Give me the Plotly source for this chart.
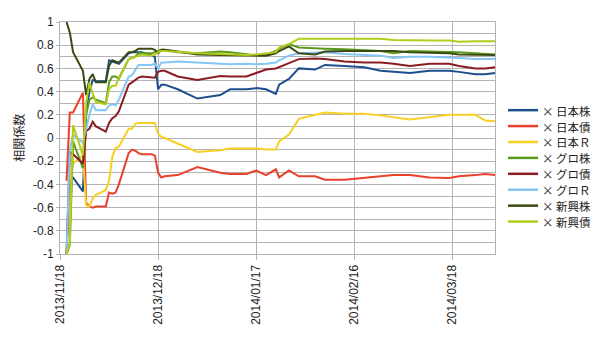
import plotly.graph_objects as go

# Observation dates (business days, denser at the start of the window)
dates = [
    "2013-11-20", "2013-11-21", "2013-11-22", "2013-11-25", "2013-11-26",
    "2013-11-27", "2013-11-28", "2013-11-29", "2013-12-02", "2013-12-03",
    "2013-12-04", "2013-12-05", "2013-12-06", "2013-12-09", "2013-12-10",
    "2013-12-11", "2013-12-12", "2013-12-13", "2013-12-16", "2013-12-17",
    "2013-12-18", "2013-12-19", "2013-12-20", "2013-12-24", "2013-12-30",
    "2014-01-06", "2014-01-09", "2014-01-14", "2014-01-17", "2014-01-20",
    "2014-01-23", "2014-01-24", "2014-01-27", "2014-01-30", "2014-02-04",
    "2014-02-07", "2014-02-13", "2014-02-19", "2014-02-24", "2014-02-28",
    "2014-03-05", "2014-03-11", "2014-03-17", "2014-03-20", "2014-03-25",
    "2014-03-28", "2014-03-31",
]

# Rolling correlation coefficients for each asset pair
jp_equity = [
    -1.0, -0.34, -0.34, -0.46, 0.22, 0.40, 0.50, 0.49, 0.49, 0.67,
    0.66, 0.65, 0.64, 0.73, 0.74, 0.74, 0.74, 0.74, 0.71, 0.70,
    0.42, 0.46, 0.46, 0.42, 0.34, 0.37, 0.42, 0.42, 0.43, 0.42,
    0.38, 0.46, 0.51, 0.60, 0.59, 0.63, 0.62, 0.61, 0.58, 0.57,
    0.56, 0.58, 0.58, 0.57, 0.55, 0.55, 0.56,
]
jp_bond = [
    -0.37, 0.22, 0.22, 0.39, -0.56, -0.59, -0.60, -0.59, -0.59, -0.47,
    -0.48, -0.47, -0.40, -0.13, -0.10, -0.11, -0.13, -0.14, -0.14, -0.15,
    -0.30, -0.34, -0.33, -0.32, -0.25, -0.30, -0.31, -0.31, -0.28, -0.32,
    -0.27, -0.34, -0.28, -0.33, -0.33, -0.36, -0.36, -0.345, -0.33, -0.32,
    -0.32, -0.34, -0.345, -0.33, -0.32, -0.31, -0.32,
]
jp_reit = [
    -1.0, -0.38, -0.22, -0.15, -0.58, -0.59, -0.52, -0.49, -0.45, -0.37,
    -0.16, -0.085, -0.075, 0.08, 0.08, 0.12, 0.13, 0.13, 0.13, 0.13,
    0.035, 0.01, 0.0, -0.05, -0.12, -0.105, -0.09, -0.09, -0.09, -0.10,
    -0.10, -0.03, 0.03, 0.165, 0.20, 0.22, 0.21, 0.21, 0.195, 0.18,
    0.16, 0.18, 0.20, 0.20, 0.20, 0.15, 0.145,
]
gl_equity = [
    -1.0, -0.92, -0.03, -0.26, 0.20, 0.33, 0.35, 0.33, 0.30, 0.48,
    0.53, 0.53, 0.51, 0.68, 0.69, 0.70, 0.73, 0.73, 0.73, 0.74,
    0.75, 0.76, 0.76, 0.74, 0.73, 0.745, 0.74, 0.72, 0.71, 0.72,
    0.75, 0.77, 0.81, 0.78, 0.77, 0.77, 0.765, 0.76, 0.75, 0.73,
    0.75, 0.745, 0.745, 0.74, 0.73, 0.725, 0.72,
]
gl_bond = [
    -1.0, -0.12, -0.14, -0.22, 0.06, 0.08, 0.14, 0.10, 0.055, 0.13,
    0.17, 0.19, 0.23, 0.46, 0.48, 0.50, 0.52, 0.53, 0.52, 0.52,
    0.57, 0.58, 0.58, 0.53, 0.50, 0.535, 0.53, 0.53, 0.56, 0.59,
    0.60, 0.61, 0.645, 0.68, 0.685, 0.68, 0.66, 0.65, 0.65, 0.64,
    0.62, 0.64, 0.64, 0.62, 0.60, 0.60, 0.61,
]
gl_reit = [
    -1.0, -0.10, 0.03, -0.04, 0.08, 0.20, 0.29, 0.24, 0.24, 0.28,
    0.29, 0.28, 0.33, 0.53, 0.54, 0.58, 0.63, 0.63, 0.63, 0.64,
    0.60, 0.65, 0.65, 0.66, 0.65, 0.64, 0.635, 0.64, 0.635, 0.64,
    0.65, 0.67, 0.71, 0.73, 0.74, 0.74, 0.725, 0.72, 0.71, 0.69,
    0.70, 0.70, 0.695, 0.69, 0.68, 0.68, 0.68,
]
em_equity = [
    1.0, 0.91, 0.74, 0.58, 0.37, 0.51, 0.55, 0.48, 0.48, 0.62,
    0.67, 0.66, 0.65, 0.74, 0.74, 0.75, 0.77, 0.77, 0.77, 0.76,
    0.73, 0.76, 0.76, 0.745, 0.72, 0.715, 0.715, 0.71, 0.71, 0.71,
    0.73, 0.75, 0.79, 0.73, 0.72, 0.745, 0.75, 0.75, 0.755, 0.75,
    0.74, 0.735, 0.73, 0.72, 0.715, 0.715, 0.715,
]
em_bond = [
    -1.0, -0.90, 0.11, -0.15, 0.30, 0.48, 0.38, 0.31, 0.29, 0.42,
    0.45, 0.45, 0.52, 0.68, 0.69, 0.70, 0.71, 0.72, 0.71, 0.72,
    0.74, 0.75, 0.75, 0.74, 0.73, 0.725, 0.72, 0.715, 0.72, 0.73,
    0.74, 0.78, 0.81, 0.855, 0.855, 0.855, 0.855, 0.855, 0.855, 0.845,
    0.84, 0.84, 0.84, 0.83, 0.835, 0.835, 0.835,
]

series_names = ["× 日本株", "× 日本債", "× 日本Ｒ", "× グロ株",
                "× グロ債", "× グロＲ", "× 新興株", "× 新興債"]
series_values = [jp_equity, jp_bond, jp_reit, gl_equity,
                 gl_bond, gl_reit, em_equity, em_bond]
series_colors = ["#1d4f8e", "#e8412c", "#f8cf22", "#5a9b1e",
                 "#8a1c22", "#85c6f6", "#3a4b12", "#b3cd1c"]

y_ticks = [1, 0.8, 0.6, 0.4, 0.2, 0, -0.2, -0.4, -0.6, -0.8, -1]
y_labels = ["1", "0.8", "0.6", "0.4", "0.2", "0", "-0.2", "-0.4", "-0.6", "-0.8", "-1"]

fig = go.Figure()
for name, vals, col in zip(series_names, series_values, series_colors):
    fig.add_trace(go.Scatter(
        x=dates, y=vals, name=name, mode="lines",
        line=dict(color=col, width=2), showlegend=False,
    ))

# Compact key to the right of the plot area (line sample + label per series)
key_top = 0.620      # paper y of the first entry
key_step = 0.0686    # paper-y spacing between entries
shapes = []
annotations = [dict(
    text="相関係数", xref="paper", yref="paper",
    x=-0.097, y=0.5, xanchor="center", yanchor="middle",
    textangle=-90, showarrow=False,
    font=dict(family="Noto Sans CJK JP", size=12, color="#222"),
)]
for i, (name, col) in enumerate(zip(series_names, series_colors)):
    ky = key_top - i * key_step
    shapes.append(dict(type="line", xref="paper", yref="paper",
                       x0=1.030, x1=1.099, y0=ky, y1=ky,
                       line=dict(color=col, width=2.5)))
    annotations.append(dict(text=name, xref="paper", yref="paper",
                            x=1.106, y=ky, xanchor="left", yanchor="middle",
                            showarrow=False, height=15, borderpad=0,
                            font=dict(family="Noto Sans CJK JP", size=11.5, color="#222")))

grid = "#b4b4b4"
fig.update_layout(
    width=600, height=337,
    margin=dict(l=60, r=105, t=22, b=76),
    paper_bgcolor="white", plot_bgcolor="white",
    font=dict(family="Liberation Sans, Arial, Noto Sans CJK JP", size=12, color="#222"),
    showlegend=False,
    shapes=shapes,
    annotations=annotations,
)
fig.update_xaxes(
    type="date",
    range=["2013-11-18", "2014-03-31"],
    tick0="2013-11-18", dtick=30 * 86400000,
    tickformat="%Y/%m/%d", tickangle=-90,
    showgrid=True, gridcolor=grid, gridwidth=1,
    ticks="outside", ticklen=5, tickcolor=grid,
    showline=True, linecolor=grid, mirror=True,
    zeroline=False,
)
fig.update_yaxes(
    range=[-1, 1],
    tickvals=y_ticks, ticktext=y_labels,
    showgrid=True, gridcolor=grid, gridwidth=1,
    minor=dict(dtick=0.1, tick0=0, showgrid=True, gridcolor=grid, gridwidth=1),
    ticks="outside", ticklen=3, tickcolor=grid,
    showline=True, linecolor=grid, mirror=True,
    zeroline=False,
)

fig.write_html("out.html")
